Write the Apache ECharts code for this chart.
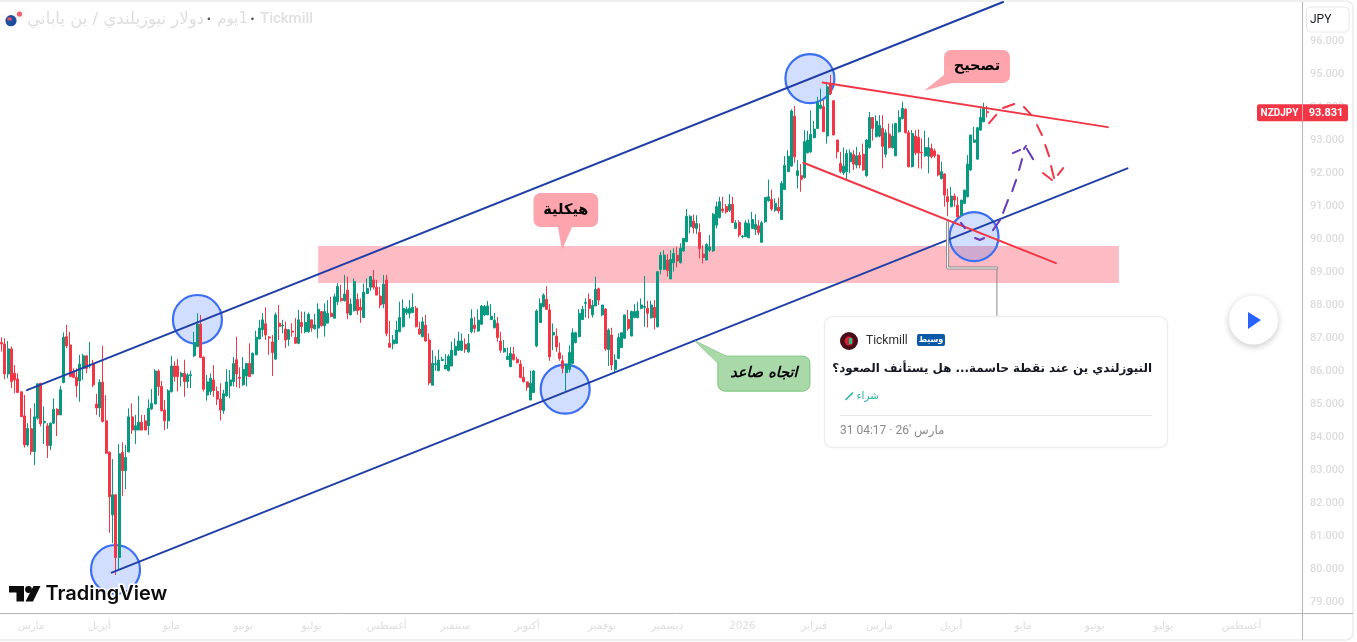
<!DOCTYPE html>
<html><head><meta charset="utf-8">
<style>html,body{margin:0;padding:0;background:#fff;overflow:hidden}#c{width:1357px;height:642px}</style>
<script src="https://cdn.jsdelivr.net/npm/echarts@6/dist/echarts.min.js"></script>
</head><body><div id="c"></div>
<script>
// [open, close, low, high]
const ohlc = [
[86.86,86.82,86.59,87.02],[86.82,85.91,85.75,86.99],[85.91,86.67,85.78,86.91],[86.67,85.68,85.48,86.74],[85.93,85.73,85.33,86.18],
[85.76,85.35,85.33,85.93],[85.37,84.62,84.60,85.37],[84.64,83.76,83.68,85.27],[83.76,84.26,83.71,84.42],[84.25,83.56,83.46,84.87],
[83.56,84.61,83.15,85.02],[84.57,85.61,84.52,85.63],[85.63,84.40,84.32,85.63],[84.43,84.47,83.79,84.92],[84.34,83.74,83.36,84.42],
[83.74,84.42,83.61,84.44],[84.42,84.84,84.40,85.17],[84.84,84.67,84.03,84.87],[84.67,85.43,84.67,85.55],[85.65,87.02,85.63,87.17],
[87.04,86.76,86.69,87.40],[86.79,85.83,85.83,87.19],[85.98,85.81,85.78,86.08],[85.81,85.55,85.20,86.08],[85.70,86.21,85.07,86.49],
[86.08,86.46,85.73,86.52],[86.46,86.08,85.93,86.46],[86.15,86.18,86.08,86.88],[86.23,85.58,85.51,86.34],[85.00,84.88,84.67,85.31],
[84.88,85.66,84.60,85.75],[85.66,84.47,84.44,86.76],[84.49,83.51,83.49,85.27],[83.54,82.19,81.10,83.56],[81.64,82.25,80.78,83.33],
[82.25,80.35,79.82,82.25],[80.35,83.49,79.97,83.79],[83.53,82.98,82.21,83.84],[82.98,83.38,82.42,83.76],[83.55,84.61,83.53,84.87],
[84.61,84.21,84.09,85.02],[84.21,84.34,83.79,84.67],[84.21,84.45,84.21,85.25],[84.45,84.21,84.21,84.67],[84.49,84.21,84.21,84.67],
[84.34,84.87,84.06,85.14],[84.85,85.02,84.82,85.45],[85.00,86.00,85.00,86.05],[86.00,85.53,85.25,86.05],[85.53,84.80,84.77,85.70],
[84.82,84.49,84.21,85.12],[84.49,85.40,84.25,85.45],[85.37,86.15,85.35,86.46],[86.15,85.83,85.68,86.29],[86.15,85.83,85.38,86.36],
[85.83,85.93,85.53,85.98],[85.93,85.68,85.22,86.34],[85.68,85.88,85.48,85.93],[85.86,85.89,85.48,86.01],[86.46,86.86,86.42,87.19],
[86.74,87.42,86.72,87.75],[87.42,86.41,86.39,87.70],[86.42,85.45,85.38,86.44],[85.27,85.67,85.10,85.88],[85.38,85.78,85.27,85.93],
[85.73,85.41,85.22,86.18],[85.38,85.15,84.97,85.53],[85.15,84.82,84.50,85.63],[84.80,85.31,84.70,85.43],[85.25,85.67,85.22,86.05],
[85.55,85.73,85.17,86.03],[85.68,86.23,85.53,86.42],[86.34,85.91,85.51,87.04],[85.81,85.78,85.48,86.11],[85.58,86.05,85.55,86.42],
[85.85,86.23,85.53,86.23],[86.23,85.83,85.81,86.84],[85.91,86.54,85.91,86.56],[86.49,87.02,86.49,87.22],[86.97,87.30,86.96,87.55],
[87.25,87.55,87.04,87.75],[87.43,87.09,86.94,87.93],[87.03,87.00,86.49,87.06],[86.88,86.56,85.85,87.09],[86.36,87.70,86.34,87.77],
[87.45,87.35,86.94,88.00],[87.36,87.39,87.14,87.55],[87.27,86.94,86.69,87.50],[86.96,87.25,86.76,87.27],[87.21,87.18,87.04,87.45],
[87.02,86.84,86.84,87.60],[86.84,87.55,86.81,87.85],[87.47,87.35,87.14,87.80],[87.19,87.47,87.14,87.80],[87.19,87.72,87.16,87.77],
[87.55,87.30,87.19,87.55],[87.28,87.40,87.25,87.73],[87.30,87.87,86.99,88.05],[87.80,87.37,87.35,87.80],[87.37,87.80,87.04,88.05],
[87.45,87.75,87.45,88.15],[87.75,87.65,87.63,88.25],[87.60,88.25,87.60,88.34],[88.10,88.56,88.00,88.66],
[88.20,88.13,88.10,88.61],[88.13,88.33,88.10,88.91],[88.45,87.75,87.57,88.86],[87.70,88.03,87.70,88.20],[87.83,88.71,87.80,88.81],
[88.17,87.83,87.70,88.35],[87.93,87.85,87.46,88.20],[87.62,88.39,87.60,88.65],[88.35,88.50,88.35,88.81],[88.54,88.86,88.43,88.88],
[88.76,88.54,88.47,89.06],[88.54,88.30,88.30,88.76],[88.27,88.00,87.90,88.55],[88.03,88.63,87.90,88.91],[88.76,87.14,87.06,88.91],
[86.84,86.72,86.72,87.52],[86.82,86.94,86.66,87.09],[86.84,87.24,86.82,87.52],[87.19,87.62,87.19,88.10],[87.34,87.90,87.32,88.17],
[87.77,87.87,87.70,87.95],[87.75,87.90,87.60,88.15],[87.77,87.93,87.75,88.35],[87.90,87.34,87.32,87.97],[87.27,87.12,87.09,87.49],
[87.04,87.49,87.02,87.64],[87.39,86.91,86.89,87.70],[86.94,85.64,85.57,87.14],[85.57,86.23,85.57,86.63],[86.19,86.22,86.01,86.45],
[86.01,86.33,85.99,86.65],[86.32,86.35,86.31,86.43],[86.06,86.18,86.06,86.51],[86.01,86.45,85.99,86.51],[86.15,86.63,86.15,86.89],
[86.48,86.75,86.48,86.99],[86.63,86.91,86.61,87.19],[86.63,86.91,86.61,87.14],[86.81,86.66,86.55,86.99],[86.58,86.84,86.55,87.12],
[87.19,87.59,87.14,87.87],[87.39,87.29,87.16,87.64],[87.21,87.54,87.19,87.87],[87.42,87.97,87.39,88.00],[87.70,87.95,87.66,88.00],
[87.70,87.97,87.70,88.12],[87.56,87.66,87.54,88.03],[87.31,87.54,87.29,87.76],[87.44,87.01,86.89,87.64],[86.91,86.63,86.55,87.19],
[86.58,86.68,86.55,86.94],[86.35,86.45,86.35,86.71],[86.13,86.53,86.13,86.73],[86.51,86.35,86.31,86.73],[86.35,86.25,86.23,86.43],
[86.21,85.80,85.78,86.33],[85.81,85.68,85.65,86.13],[85.67,85.51,85.40,85.68],[85.12,85.63,85.12,86.01],[85.35,86.00,85.34,86.03],
[86.76,87.82,86.72,87.87],[87.47,88.05,87.46,88.20],[87.95,88.30,87.93,88.35],[88.17,87.87,87.85,88.57],[87.85,86.43,86.31,88.03],
[87.09,87.17,86.63,87.44],[87.06,86.73,86.58,87.29],[86.55,86.38,86.31,86.86],[86.31,86.08,85.93,86.48],[85.95,86.21,85.37,86.21],
[86.05,86.56,85.95,86.78],[86.23,87.16,86.21,87.29],[86.86,87.16,86.84,87.19],[87.04,87.74,87.02,87.87],[87.56,87.87,87.54,87.97],
[88.05,88.08,87.62,88.20],[88.17,87.90,87.59,88.35],[87.70,87.99,87.62,88.15],[87.97,88.47,87.97,88.86],[88.49,88.15,88.00,88.53],
[87.70,88.00,87.66,88.00],[87.88,86.67,86.61,87.90],[86.65,87.24,86.15,87.29],[87.09,86.18,86.03,87.31],[86.05,86.33,85.93,86.51],
[86.38,87.01,86.38,87.14],[86.71,87.16,86.71,87.16],[86.99,87.70,86.97,87.70],[87.56,87.29,87.22,87.85],[87.06,87.80,87.06,87.83],
[87.62,87.80,87.60,88.03],[87.62,87.82,87.59,88.10],[87.90,88.00,87.87,88.20],[87.93,87.96,87.34,88.88],[87.90,87.75,87.32,88.13],
[87.61,88.00,87.59,88.13],[87.93,87.62,87.26,88.15],[87.34,89.01,87.32,89.01],[89.08,89.51,88.93,89.61],[89.08,89.51,89.06,89.66],
[89.36,89.04,88.86,89.54],[88.79,89.38,88.79,89.66],[89.28,89.56,89.01,89.72],[89.51,89.33,89.14,89.75],
[89.28,89.72,89.26,89.87],[89.64,90.02,89.61,90.02],[89.92,90.69,89.90,90.91],[90.37,90.69,90.17,90.72],[90.54,90.34,90.17,90.74],
[90.32,90.47,90.15,90.72],[90.20,89.71,89.41,90.47],[89.54,89.44,89.26,89.81],[89.36,89.83,89.36,89.87],[89.66,89.76,89.61,90.12],
[89.64,90.75,89.61,90.79],[90.42,90.98,90.32,91.13],[90.65,91.13,90.62,91.28],[90.91,90.85,90.79,91.28],[90.98,90.82,90.77,91.06],
[90.87,91.05,90.82,91.36],[91.05,90.50,90.49,91.28],[90.32,90.49,90.32,90.57],[90.50,90.12,90.05,90.57],[90.07,90.09,90.02,90.12],
[90.07,90.49,90.07,90.57],[90.04,90.47,90.02,90.59],[90.32,90.59,90.32,90.82],[90.29,90.45,90.12,90.75],[90.40,90.20,90.12,90.57],
[89.90,90.49,89.89,90.55],[90.52,91.26,90.49,91.26],[91.16,91.28,91.13,91.80],[91.20,90.91,90.85,91.50],[90.87,91.08,90.82,91.23],
[90.96,90.85,90.77,91.26],[90.59,91.68,90.59,91.76],[91.50,92.23,91.48,92.51],[92.04,92.51,92.04,92.69],[92.21,93.88,92.19,93.93],
[93.72,92.49,92.31,94.03],[91.92,92.07,91.53,92.39],[91.92,91.81,91.43,92.27],[91.86,92.95,91.83,93.30],[92.61,93.00,92.59,93.28],
[92.64,93.17,92.61,93.90],[93.07,93.33,93.05,93.58],[93.35,94.13,93.35,94.31],[93.96,94.06,93.93,94.56],[94.01,93.25,93.25,94.21],
[93.12,94.61,92.89,94.71],[94.71,94.41,94.36,94.97],[94.19,93.15,93.15,94.19],[93.00,92.64,92.44,93.00],[92.29,92.04,91.99,92.64],
[92.00,92.21,91.94,92.77],[92.04,92.59,91.78,92.71],[92.34,92.61,91.99,92.71],[92.56,92.27,92.09,92.69],[92.24,92.52,92.14,92.79],
[92.54,92.24,92.14,92.64],[92.57,92.09,92.07,92.89],[91.92,93.00,91.88,93.02],[92.77,93.68,92.74,93.85],[93.68,93.35,92.98,93.68],
[93.10,93.57,93.08,93.75],[93.12,93.44,93.08,93.75],[93.35,92.81,92.14,93.75],[92.57,93.22,92.47,93.32],[93.18,92.77,92.74,93.50],
[92.77,93.12,92.74,93.50],[92.52,93.50,92.51,93.52],[93.25,93.68,93.22,93.90],[93.65,93.96,93.62,94.16],[93.93,93.22,93.20,93.96],
[93.22,92.19,92.17,93.30],[92.19,93.20,92.17,93.30],[93.12,92.61,92.54,93.30],[93.08,92.61,92.14,93.32],[92.63,92.61,92.13,93.05],
[92.52,92.77,92.49,93.28],[92.51,92.77,91.99,93.08],[92.74,92.49,92.44,92.89],[92.67,92.52,92.46,92.74],[92.54,91.94,91.90,92.57],
[91.83,92.04,91.80,92.34],[91.97,91.33,90.98,91.99],[91.28,91.13,90.69,91.53],[90.98,91.30,90.96,91.58],[91.30,91.18,90.98,91.38],
[91.02,90.67,90.62,91.28],[90.72,91.18,90.72,91.18],[91.08,91.48,91.06,91.50],[91.28,92.27,91.26,92.54],[92.09,93.15,92.07,93.15],
[92.93,93.00,92.92,93.40],[92.42,93.37,92.41,93.40],[93.30,93.68,93.28,93.96],[93.55,93.96,93.54,94.13],[93.86,93.831,93.68,94.03]
];
const slotCount = 399;
const lastPrice = 93.831;
const yTicks = [79,80,81,82,83,84,85,86,87,88,89,90,91,92,93,94,95,96];
const monthSlots = [9,30,52,74,95,118,139,161,184,204,227,249,269,291,313,335,356,380];
const monthLabels = ['مارس','أبريل','مايو','يونيو','يوليو','أغسطس','سبتمبر','أكتوبر','نوفمبر','ديسمبر','2026','فبراير','مارس','أبريل','مايو','يونيو','يوليو','أغسطس'];
// drawings, as [bar, price] anchors
const channelUpper = [[7.77,85.42],[306.9,97.18]];
const channelLower = [[33.73,79.89],[345.0,92.14]];
const wedgeUpper = [[251.6,94.74],[339.0,93.39]];
const wedgeLower = [[245.7,92.31],[323.1,89.27]];
const zone = [97.0,342.4,89.79,88.67];
const touchCircles = [[34.9,79.985],[60.0,87.56],[172.7,85.45],[247.7,94.86],[298.0,90.07]];
const redDashes = [[[302.6,93.51],[304.8,93.76]],[[306.9,93.97],[310.3,94.09]],[[313.3,94.00],[315.5,93.76]],[[317.3,93.45],[318.8,93.15]],[[319.8,92.85],[321.0,92.51]],[[321.6,92.21],[322.5,91.85]],[[319.1,92.00],[321.9,91.79]],[[323.7,91.94],[325.3,92.15]]];
const purpleDashes = [[[294.0,90.49],[295.2,90.33]],[[298.3,90.03],[299.8,89.97],[301.1,90.03]],[[303.8,90.27],[306.0,90.58]],[[306.9,90.79],[308.4,91.18]],[[309.7,91.45],[310.9,91.79]],[[311.8,92.09],[312.7,92.42]],[[309.9,92.60],[312.1,92.70]],[[313.3,92.73],[313.9,92.82]],[[314.2,92.73],[316.1,92.42]]];
const connectorDouble = [[289.9,90.51],[289.9,89.12],[305.0,89.12]];
const connectorDrop = [[305.0,89.12],[305.0,87.67]];
// callouts: bar left, bar right, price top, price bottom, tail A, tail tip, tail C
const calloutTexts = ['تصحيح','هيكلية','اتجاه صاعد'];
const calloutBoxes = [[288.8,309.0,95.73,94.73],[163.0,182.8,91.39,90.36],[219.5,247.7,86.45,85.39]];
const calloutTails = [[[288.8,94.97],[282.7,94.49],[291.3,94.73]],[[170.5,90.36],[171.7,89.67],[174.8,90.36]],[[219.5,86.24],[212.5,86.91],[222.0,86.45]]];
const calloutFills = ['#fda4ac','#fda4ac','#a9d9a9'];
const calloutStrokes = [null,null,'#78c57c'];

const UP='#089981', DOWN='#f23645', NAVY='#1f3fa6', AR='"DejaVu Sans",sans-serif';
const categories = Array.from({length:slotCount},(_,i)=>String(i));
const labelBySlot = {}; monthSlots.forEach((s,i)=>labelBySlot[s]=monthLabels[i]);
const toLine = arr => arr.reduce((acc,seg,i)=>{ if(i) acc.push(['-','-']); return acc.concat(seg); },[]);
const lineSeries = (data,color,width,z,name)=>({type:'line',name,xAxisIndex:1,yAxisIndex:0,data,symbol:'none',silent:true,z,connectNulls:false,
  lineStyle:{color,width,cap:'round'},animation:false});

const chart = echarts.init(document.getElementById('c'),null,{renderer:'canvas'});
const t=(x,y,text,o)=>({type:'text',x,y,z:104,silent:true,style:Object.assign({text,fill:'#333',fontFamily:AR,fontSize:12,align:'left',verticalAlign:'middle'},o||{})});
const frame=[
 {type:'rect',z:0,silent:true,shape:{x:-8,y:1,width:1361,height:639,r:7},style:{fill:'none',stroke:'#ebebeb',lineWidth:1.5}},
 {type:'line',z:1,silent:true,shape:{x1:0,y1:613.5,x2:1353,y2:613.5},style:{stroke:'#b4b4b4',lineWidth:1}},
 {type:'line',z:1,silent:true,shape:{x1:1302.5,y1:2,x2:1302.5,y2:640},style:{stroke:'#b4b4b4',lineWidth:1}}
];
const header=[
 {type:'circle',z:100,silent:true,shape:{cx:19,cy:14,r:5.5},style:{fill:'#f5f5f5'}},
 {type:'circle',z:100,silent:true,shape:{cx:19.5,cy:14,r:2.6},style:{fill:'#f4606c'}},
 {type:'circle',z:101,silent:true,shape:{cx:11,cy:20.7,r:5.6},style:{fill:'#1d4fa0'}},
 {type:'rect',z:102,silent:true,shape:{x:7.5,y:17.5,width:4,height:3},style:{fill:'#e8515e'}},
 t(260,19.5,'Tickmill',{fill:'#e0e0e0',fontFamily:'Roboto,sans-serif',fontSize:15,fontWeight:500}),
 t(252.5,19.5,'•',{fill:'#555',fontSize:9,align:'center'}),
 t(248,19.5,'\u200eيوم\u200e1',{fill:'#dedede',fontSize:15,align:'right'}),
 t(209,19.5,'•',{fill:'#555',fontSize:9,align:'center'}),
 t(204,19.5,'دولار نيوزيلندي / ين ياباني',{fill:'#dedede',fontSize:16.5,align:'right'})
];
const rightUi=[
 {type:'rect',z:100,silent:true,shape:{x:1306.5,y:7,width:42.5,height:25,r:4},style:{fill:'#fff',stroke:'#e8e8e8',lineWidth:1}},
 t(1310,19.5,'JPY',{fill:'#131722',fontFamily:'Roboto,sans-serif',fontSize:12}),
 {type:'circle',z:100,silent:true,shape:{cx:1253.5,cy:320,r:24.5},style:{fill:'#fff',shadowBlur:7,shadowColor:'rgba(0,0,0,0.22)',shadowOffsetY:2}},
 {type:'polygon',z:101,silent:true,shape:{points:[[1248,312],[1261,320],[1248,329]]},style:{fill:'#2962ff'}}
];
const logo=[
 {type:'polygon',z:100,silent:true,shape:{points:[[9,586],[24,586],[24,601.5],[16.5,601.5],[16.5,592.5],[9,592.5]]},style:{fill:'#0c0c0c',stroke:'#fff',lineWidth:0}},
 {type:'circle',z:100,silent:true,shape:{cx:28.5,cy:589.5,r:3.4},style:{fill:'#0c0c0c'}},
 {type:'polygon',z:100,silent:true,shape:{points:[[33.5,586],[40.5,586],[33,601.5],[25.5,601.5]]},style:{fill:'#0c0c0c'}},
 t(45.5,594,'TradingView',{fill:'#0c0c0c',fontFamily:'Inter,Roboto,sans-serif',fontSize:20,fontWeight:600,stroke:'#fff',lineWidth:3})
];
const card=[
 {type:'rect',z:100,silent:true,shape:{x:824.5,y:316.5,width:343,height:131,r:8},style:{fill:'#fff',stroke:'#eeeeee',lineWidth:1.5}},
 {type:'circle',z:101,silent:true,shape:{cx:849,cy:341,r:9},style:{fill:'#4a0b18'}},
 {type:'circle',z:102,silent:true,shape:{cx:849,cy:341,r:4.5},style:{fill:'#d3213a'}},
 {type:'rect',z:103,silent:true,shape:{x:849,y:338,width:3,height:6},style:{fill:'#26c281'}},
 t(866,340.5,'Tickmill',{fill:'#2e2e2e',fontFamily:'Roboto,sans-serif',fontSize:12}),
 {type:'rect',z:101,silent:true,shape:{x:917,y:334,width:28,height:12,r:2},style:{fill:'#0b5aa5'}},
 t(931,340,'وسيط',{fill:'#fff',fontSize:8,fontWeight:'bold',align:'center'}),
 t(1152,368.5,'النيوزلندي ين عند نقطة حاسمة... هل يستأنف الصعود؟',{fill:'#131722',fontSize:11.9,fontWeight:'bold',align:'right'}),
 {type:'line',z:101,silent:true,shape:{x1:845.5,y1:400,x2:853,y2:392.5},style:{stroke:'#2bb39a',lineWidth:1.6}},
 t(879,396.5,'شراء',{fill:'#2bb39a',fontSize:10.5,align:'right'}),
 {type:'line',z:101,silent:true,shape:{x1:840,y1:415.5,x2:1152,y2:415.5},style:{stroke:'#e8e8e8',lineWidth:1}},
 t(840,431,"31 04:17 · 26' مارس",{fill:'#8a8a8a',fontFamily:'Roboto,"DejaVu Sans",sans-serif',fontSize:12})
];

chart.setOption({
 animation:false,backgroundColor:'#fff',
 grid:{left:0,right:55,top:0,bottom:29,containLabel:false},
 xAxis:[
  {type:'category',data:categories,boundaryGap:true,axisLine:{show:false},axisTick:{show:false},splitLine:{show:false},
   axisLabel:{interval:(i)=>labelBySlot[i]!==undefined,formatter:(v)=>labelBySlot[v]||'',color:'#dedede',fontFamily:AR,fontSize:10.5,margin:8,hideOverlap:false}},
  {type:'value',min:-0.5,max:slotCount-0.5,show:false}
 ],
 yAxis:{type:'value',position:'right',min:78.667,max:97.242,scale:true,axisLine:{show:false},axisTick:{show:false},splitLine:{show:false},
   axisLabel:{customValues:yTicks,formatter:(v)=>v.toFixed(3),color:'#dcdcdc',fontFamily:'Roboto,sans-serif',fontSize:11,fontWeight:500,margin:8}},
 graphic:{elements:[...frame,...header,...rightUi,...logo,...card]},
 series:[
  {type:'custom',name:'zone',xAxisIndex:1,yAxisIndex:0,z:1,silent:true,data:[zone],clip:true,
   renderItem:(p,api)=>{const a=api.coord([api.value(0),api.value(2)]),b=api.coord([api.value(1),api.value(3)]);
     return {type:'rect',shape:{x:a[0],y:a[1],width:b[0]-a[0],height:b[1]-a[1]},style:{fill:'#fdbcc3'}};}},
  {type:'scatter',name:'touches',xAxisIndex:1,yAxisIndex:0,z:2,silent:true,data:touchCircles,symbol:'circle',symbolSize:49,
   itemStyle:{color:'rgba(41,98,255,0.21)',borderColor:'#3a6ff2',borderWidth:2.2,opacity:1}},
  {type:'candlestick',name:'NZDJPY',xAxisIndex:0,yAxisIndex:0,z:3,silent:true,data:ohlc,barWidth:2.5,
   itemStyle:{color:UP,color0:DOWN,borderColor:UP,borderColor0:DOWN,borderWidth:1}},
  lineSeries(channelUpper,NAVY,2,4,'channelUpper'),
  lineSeries(channelLower,NAVY,2,4,'channelLower'),
  lineSeries(wedgeUpper,DOWN,2,4,'wedgeUpper'),
  lineSeries(wedgeLower,DOWN,2,4,'wedgeLower'),
  lineSeries(toLine(redDashes),DOWN,2,4,'redPath'),
  lineSeries(toLine(purpleDashes),'#673ab7',2,4,'purplePath'),
  lineSeries(connectorDouble,'#8a8a8a',3,4,'connectorOuter'),
  lineSeries(connectorDouble,'#ffffff',1,4.1,'connectorInner'),
  lineSeries(connectorDrop,'#8a8a8a',1,4,'connectorDrop'),
  {type:'custom',name:'callouts',xAxisIndex:1,yAxisIndex:0,z:5,silent:true,data:calloutBoxes.map((b,i)=>[i,...b]),clip:false,
   renderItem:(p,api)=>{const i=api.value(0),tl=api.coord([api.value(1),api.value(3)]),br=api.coord([api.value(2),api.value(4)]);
     const pts=calloutTails[i].map(c=>api.coord(c)),fill=calloutFills[i],stroke=calloutStrokes[i];
     const w=br[0]-tl[0],h=br[1]-tl[1];
     const kids=[];
     if(stroke) kids.push({type:'polygon',shape:{points:pts},style:{fill,stroke,lineWidth:1}});
     kids.push({type:'rect',shape:{x:tl[0],y:tl[1],width:w,height:h,r:7},style:{fill,stroke:stroke||'none',lineWidth:1}});
     kids.push({type:'polygon',shape:{points:pts},style:{fill}});
     kids.push({type:'text',style:{text:calloutTexts[i],x:tl[0]+w/2,y:tl[1]+h/2,align:'center',verticalAlign:'middle',fill:'#000',fontFamily:AR,fontSize:14.5,fontWeight:'bold',fontStyle:stroke?'italic':'normal'}});
     return {type:'group',children:kids};}},
  {type:'custom',name:'priceTag',xAxisIndex:1,yAxisIndex:0,z:6,silent:true,data:[[0,lastPrice]],clip:false,
   renderItem:(p,api)=>{const y=api.coord([0,api.value(1)])[1];
     return {type:'group',children:[
       {type:'rect',shape:{x:1257,y:y-8.2,width:91,height:17,r:2},style:{fill:DOWN}},
       {type:'line',shape:{x1:1302.5,y1:y-8.2,x2:1302.5,y2:y+8.8},style:{stroke:'#f8a3aa',lineWidth:1}},
       {type:'text',style:{text:'NZDJPY',x:1279.5,y:y+.8,align:'center',verticalAlign:'middle',fill:'#fff',fontFamily:'Roboto,sans-serif',fontSize:10,fontWeight:'bold'}},
       {type:'text',style:{text:api.value(1).toFixed(3),x:1326,y:y+.8,align:'center',verticalAlign:'middle',fill:'#fff',fontFamily:'Roboto,sans-serif',fontSize:11,fontWeight:'bold'}}
     ]};}}
 ]
});
</script></body></html>
